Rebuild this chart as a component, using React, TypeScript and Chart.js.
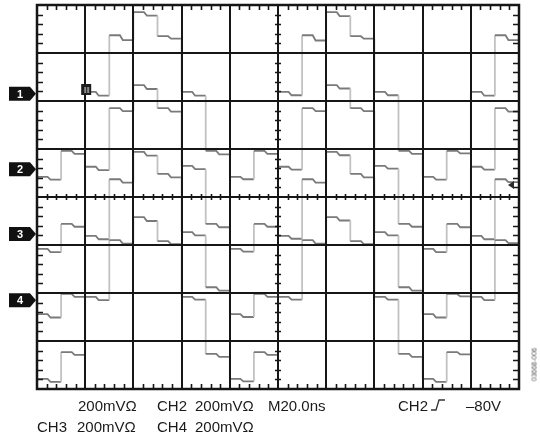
import React, { useEffect, useRef } from "react";
import { Chart, registerables } from "chart.js";

Chart.register(...registerables);

// time (divisions) at which each sample step starts; each step lasts half a division
const slotTimes = [0, 0.5, 1, 1.5, 2, 2.5, 3, 3.5, 4, 4.5, 5, 5.5, 6, 6.5, 7, 7.5, 8, 8.5, 9, 9.5];
const slotWidth = 0.5;

// level (divisions from bottom graticule) at start and end of each step
const ch1Start = [4.42, 4.96, 6.19, 7.37, 7.85, 7.35, 6.19, 4.96, 4.42, 4.96, 6.19, 7.37, 7.85, 7.35, 6.19, 4.96, 4.42, 4.96, 6.19, 7.37];
const ch1End = [4.36, 4.9, 6.11, 7.27, 7.78, 7.3, 6.11, 4.89, 4.37, 4.9, 6.12, 7.26, 7.77, 7.3, 6.12, 4.9, 4.36, 4.91, 6.11, 7.27];
const ch2Start = [2.92, 3.44, 4.63, 5.85, 6.33, 5.85, 4.65, 3.44, 2.92, 3.44, 4.63, 5.85, 6.33, 5.85, 4.65, 3.44, 2.92, 3.44, 4.63, 5.85];
const ch2End = [2.85, 3.38, 4.56, 5.79, 6.25, 5.78, 4.58, 3.37, 2.86, 3.38, 4.57, 5.79, 6.26, 5.79, 4.59, 3.38, 2.85, 3.37, 4.57, 5.78];
const ch3Start = [1.56, 1.98, 3.19, 4.37, 4.94, 4.48, 3.27, 2.12, 1.56, 1.98, 3.19, 4.37, 4.94, 4.48, 3.27, 2.12, 1.56, 1.98, 3.19, 4.37];
const ch3End = [1.49, 1.92, 3.12, 4.3, 4.86, 4.41, 3.2, 2.05, 1.5, 1.92, 3.13, 4.3, 4.87, 4.41, 3.2, 2.05, 1.49, 1.93, 3.12, 4.31];
const ch4Start = [0.21, 0.77, 1.92, 3.1, 3.58, 3.08, 1.92, 0.73, 0.21, 0.77, 1.92, 3.1, 3.58, 3.08, 1.92, 0.73, 0.21, 0.77, 1.92, 3.1];
const ch4End = [0.15, 0.71, 1.85, 3.03, 3.5, 3.02, 1.86, 0.67, 0.16, 0.71, 1.86, 3.03, 3.51, 3.02, 1.86, 0.67, 0.15, 0.72, 1.85, 3.04];

// channel ground reference markers (divisions) and labels
const channelLabels = ["1", "2", "3", "4"];
const channelRefs = [6.15, 4.58, 3.23, 1.85];
const triggerPos = { x: 1.0, y: 6.25 };
const triggerLevel = 4.25;

const xDivs = 10;
const yDivs = 8;

function buildSeries(starts: number[], ends: number[]) {
  const pts: { x: number; y: number }[] = [];
  slotTimes.forEach((t, i) => {
    pts.push({ x: t, y: starts[i] });
    pts.push({ x: t + slotWidth * 0.44, y: starts[i] });
    pts.push({ x: t + slotWidth * 0.56, y: ends[i] });
    pts.push({ x: t + slotWidth, y: ends[i] });
  });
  return pts;
}

const graticule = {
  id: "graticule",
  afterDatasetsDraw(chart: any) {
    const { ctx, chartArea, scales } = chart;
    const xs = scales.x;
    const ys = scales.y;
    const { left, right, top, bottom } = chartArea;
    ctx.save();
    ctx.strokeStyle = "#161616";
    ctx.lineWidth = 2;
    for (let i = 1; i < xDivs; i++) {
      const px = Math.round(xs.getPixelForValue(i));
      ctx.beginPath();
      ctx.moveTo(px, top);
      ctx.lineTo(px, bottom);
      ctx.stroke();
    }
    for (let j = 1; j < yDivs; j++) {
      const py = Math.round(ys.getPixelForValue(j));
      ctx.beginPath();
      ctx.moveTo(left, py);
      ctx.lineTo(right, py);
      ctx.stroke();
    }
    ctx.lineWidth = 2.5;
    ctx.strokeRect(left, top, right - left, bottom - top);

    // minor ticks
    ctx.lineWidth = 1.6;
    const cy = ys.getPixelForValue(yDivs / 2);
    const cx = xs.getPixelForValue(xDivs / 2);
    for (let i = 1; i < xDivs * 5; i++) {
      if (i % 5 === 0) continue;
      const px = Math.round(xs.getPixelForValue(i / 5)) + 0.5;
      ctx.beginPath();
      ctx.moveTo(px, top);
      ctx.lineTo(px, top + 5);
      ctx.moveTo(px, bottom);
      ctx.lineTo(px, bottom - 5);
      ctx.moveTo(px, cy - 3);
      ctx.lineTo(px, cy + 3);
      ctx.stroke();
    }
    for (let j = 1; j < yDivs * 5; j++) {
      if (j % 5 === 0) continue;
      const py = Math.round(ys.getPixelForValue(j / 5)) + 0.5;
      ctx.beginPath();
      ctx.moveTo(left, py);
      ctx.lineTo(left + 6, py);
      ctx.moveTo(right, py);
      ctx.lineTo(right - 6, py);
      ctx.moveTo(cx - 3, py);
      ctx.lineTo(cx + 3, py);
      ctx.stroke();
    }

    // trigger position marker
    const tx = xs.getPixelForValue(triggerPos.x);
    const ty = ys.getPixelForValue(triggerPos.y);
    ctx.fillStyle = "#1e1e1e";
    ctx.fillRect(tx - 4, ty - 5, 10, 11);
    ctx.fillStyle = "#8a8a8a";
    ctx.fillRect(tx - 1, ty - 2, 2, 6);
    ctx.fillRect(tx + 2, ty - 2, 2, 6);

    // trigger level arrow on right
    const ly = ys.getPixelForValue(triggerLevel);
    ctx.fillStyle = "#2a2a2a";
    ctx.beginPath();
    ctx.moveTo(right - 11, ly);
    ctx.lineTo(right - 5, ly - 4);
    ctx.lineTo(right - 5, ly + 4);
    ctx.closePath();
    ctx.fill();

    // channel markers
    channelRefs.forEach((v, k) => {
      const py = ys.getPixelForValue(v);
      const x0 = left - 28;
      const x1 = left - 7;
      const x2 = left - 1;
      ctx.fillStyle = "#111";
      ctx.beginPath();
      ctx.moveTo(x0, py - 7);
      ctx.lineTo(x1, py - 7);
      ctx.lineTo(x2, py);
      ctx.lineTo(x1, py + 7);
      ctx.lineTo(x0, py + 7);
      ctx.closePath();
      ctx.fill();
      ctx.fillStyle = "#fff";
      ctx.font = "bold 11px 'Liberation Sans', Arial, sans-serif";
      ctx.textAlign = "center";
      ctx.textBaseline = "middle";
      ctx.fillText(channelLabels[k], x0 + 11, py + 1);
    });
    ctx.restore();
  },
};

const labelStyle: React.CSSProperties = {
  position: "absolute",
  fontFamily: "'Liberation Sans', Arial, sans-serif",
  fontSize: "15px",
  lineHeight: "15px",
  color: "#1a1a1a",
  whiteSpace: "nowrap",
};

const row1 = 398;
const row2 = 419;

export default function App() {
  const canvasRef = useRef<HTMLCanvasElement | null>(null);

  useEffect(() => {
    if (!canvasRef.current) return;
    const seg = {
      borderColor: (c: any) => (c.p0.parsed.x === c.p1.parsed.x ? "#c2c2c2" : "#7a7a7a"),
    };
    const mk = (label: string, s: number[], e: number[]) => ({
      label,
      data: buildSeries(s, e),
      borderColor: "#7a7a7a",
      borderWidth: 1.8,
      pointRadius: 0,
      tension: 0,
      segment: seg,
    });
    const chart = new Chart(canvasRef.current, {
      type: "line",
      data: {
        datasets: [
          mk("CH1", ch1Start, ch1End),
          mk("CH2", ch2Start, ch2End),
          mk("CH3", ch3Start, ch3End),
          mk("CH4", ch4Start, ch4End),
        ],
      },
      options: {
        animation: false,
        responsive: false,
        devicePixelRatio: 1,
        layout: { padding: { left: 37, right: 21, top: 5, bottom: 46 } },
        plugins: { legend: { display: false }, tooltip: { enabled: false } },
        scales: {
          x: { type: "linear", min: 0, max: xDivs, display: false },
          y: { type: "linear", min: 0, max: yDivs, display: false },
        },
        events: [],
      },
      plugins: [graticule],
    });
    return () => chart.destroy();
  }, []);

  return (
    <div style={{ position: "fixed", left: 0, top: 0, width: 540, height: 435, background: "#fff", overflow: "hidden" }}>
      <canvas ref={canvasRef} width={540} height={435} style={{ position: "absolute", left: 0, top: 0, width: 540, height: 435 }} />
      <span style={{ ...labelStyle, left: 78, top: row1 }}>200mVΩ</span>
      <span style={{ ...labelStyle, left: 157, top: row1 }}>CH2</span>
      <span style={{ ...labelStyle, left: 195, top: row1 }}>200mVΩ</span>
      <span style={{ ...labelStyle, left: 268, top: row1 }}>M20.0ns</span>
      <span style={{ ...labelStyle, left: 398, top: row1 }}>CH2</span>
      <svg style={{ position: "absolute", left: 430, top: row1, width: 16, height: 14 }} viewBox="0 0 16 14">
        <polyline points="1,12 6,12 9,2 15,2" fill="none" stroke="#333" strokeWidth="1.3" />
      </svg>
      <span style={{ ...labelStyle, left: 466, top: row1 }}>–80V</span>
      <span style={{ ...labelStyle, left: 37, top: row2 }}>CH3</span>
      <span style={{ ...labelStyle, left: 77, top: row2 }}>200mVΩ</span>
      <span style={{ ...labelStyle, left: 157, top: row2 }}>CH4</span>
      <span style={{ ...labelStyle, left: 195, top: row2 }}>200mVΩ</span>
      <span
        style={{
          position: "absolute",
          left: 510,
          top: 361,
          width: 48,
          fontFamily: "'Liberation Sans', Arial, sans-serif",
          fontSize: "7px",
          lineHeight: "7px",
          color: "#555",
          transform: "rotate(-90deg)",
          transformOrigin: "center",
          textAlign: "center",
          whiteSpace: "nowrap",
        }}
      >
        03668-006
      </span>
    </div>
  );
}
